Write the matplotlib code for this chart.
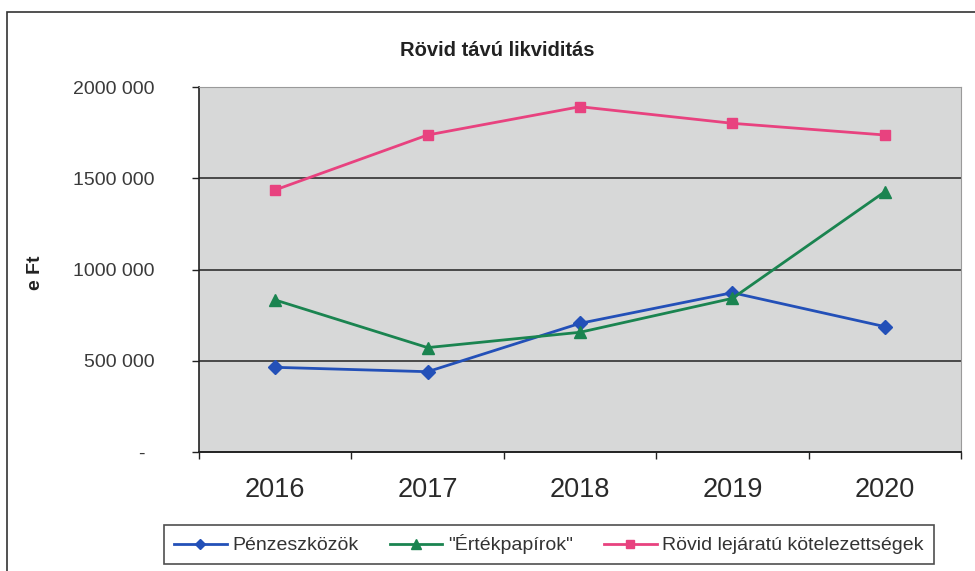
import matplotlib
matplotlib.use("Agg")
import matplotlib.pyplot as plt
import matplotlib.transforms as mtransforms
import numpy as np
from matplotlib.patches import Rectangle

plt.rcParams['font.family'] = ['Liberation Sans', 'DejaVu Sans']

# data (e Ft)
years = ["2016", "2017", "2018", "2019", "2020"]
penzeszkozok = [464000, 440000, 705000, 873000, 687000]
ertekpapirok = [833000, 572000, 656000, 842000, 1426000]
rovid_kotelezettseg = [1436000, 1737000, 1892000, 1801000, 1737000]
series_names = ["Pénzeszközök", "\"Értékpapírok\"", "Rövid lejáratú kötelezettségek"]
ytick_values = [0, 500000, 1000000, 1500000, 2000000]
ytick_labels = ["-", "500 000", "1000 000", "1500 000", "2000 000"]

W, H = 975, 571
fig = plt.figure(figsize=(W / 100, H / 100), dpi=100)
fig.patch.set_facecolor("white")

# outer chart border (cut off on the right and bottom)
fig.patches.append(Rectangle((7 / W, -0.05), 1.1, 1 - 12 / H + 0.05,
                             transform=fig.transFigure, fill=False,
                             edgecolor="#333333", linewidth=1.2))

left, right, top, bottom = 199, 961, 87, 452
ax = fig.add_axes([left / W, 1 - bottom / H, (right - left) / W, (bottom - top) / H])
ax.set_facecolor("#d7d8d8")

x = np.arange(len(years))
ax.plot(x, penzeszkozok, color="#2350b8", lw=2.0, marker="D", ms=7,
        label=series_names[0], zorder=3)
ax.plot(x, ertekpapirok, color="#1a8450", lw=2.0, marker="^", ms=8.5,
        label=series_names[1], zorder=3)
ax.plot(x, rovid_kotelezettseg, color="#e8427f", lw=2.0, marker="s", ms=7.5,
        label=series_names[2], zorder=3)

ax.set_ylim(0, 2000000)
ax.set_xlim(-0.5, len(years) - 0.5)
ax.set_yticks(ytick_values)
ax.set_yticklabels(ytick_labels)
for v in ytick_values[1:-1]:
    ax.axhline(v, color="#222222", lw=1.1, zorder=1)

# category labels between the boundary ticks
ax.set_xticks(np.arange(-0.5, len(years)))
ax.set_xticklabels([])
ax.set_xticks(x, minor=True)
ax.set_xticklabels(years, minor=True, fontsize=19.5, color="#2a2a2a")
ax.tick_params(axis="x", which="minor", length=0, pad=18)
ax.tick_params(axis="x", which="major", length=5, width=1, color="#222222", direction="out")
ax.tick_params(axis="y", length=5, width=1, color="#222222", direction="out",
               labelsize=14, labelcolor="#3a3a3a", pad=27)
ylabs = ax.get_yticklabels()
for lab in ylabs:
    lab.set_horizontalalignment("right")
# the zero dash sits a little further left
ylabs[0].set_transform(ylabs[0].get_transform() +
                       mtransforms.ScaledTranslation(-0.1, 0, fig.dpi_scale_trans))

ax.spines["left"].set_color("#222222")
ax.spines["bottom"].set_color("#222222")
ax.spines["left"].set_linewidth(1.2)
ax.spines["bottom"].set_linewidth(1.4)
ax.spines["top"].set_color("#9a9a9a")
ax.spines["right"].set_color("#9a9a9a")

fig.text(497 / W, 1 - 50 / H, "Rövid távú likviditás", ha="center", va="center",
         fontsize=14.5, fontweight="bold", color="#222222")
fig.text(36 / W, 1 - 273 / H, "e Ft", ha="center", va="center", rotation=90,
         fontsize=14, fontweight="bold", color="#222222")

leg = fig.legend(loc="center", bbox_to_anchor=(549 / W, 1 - 544.5 / H), ncol=3,
                 fontsize=14, frameon=True, fancybox=False, handlelength=2.7,
                 handletextpad=0.3, columnspacing=1.6, borderpad=0.5,
                 borderaxespad=0, edgecolor="#222222", markerscale=0.8)
leg.get_frame().set_linewidth(1.2)
for t in leg.get_texts():
    t.set_color("#333333")

fig.savefig("out.png", dpi=100)
